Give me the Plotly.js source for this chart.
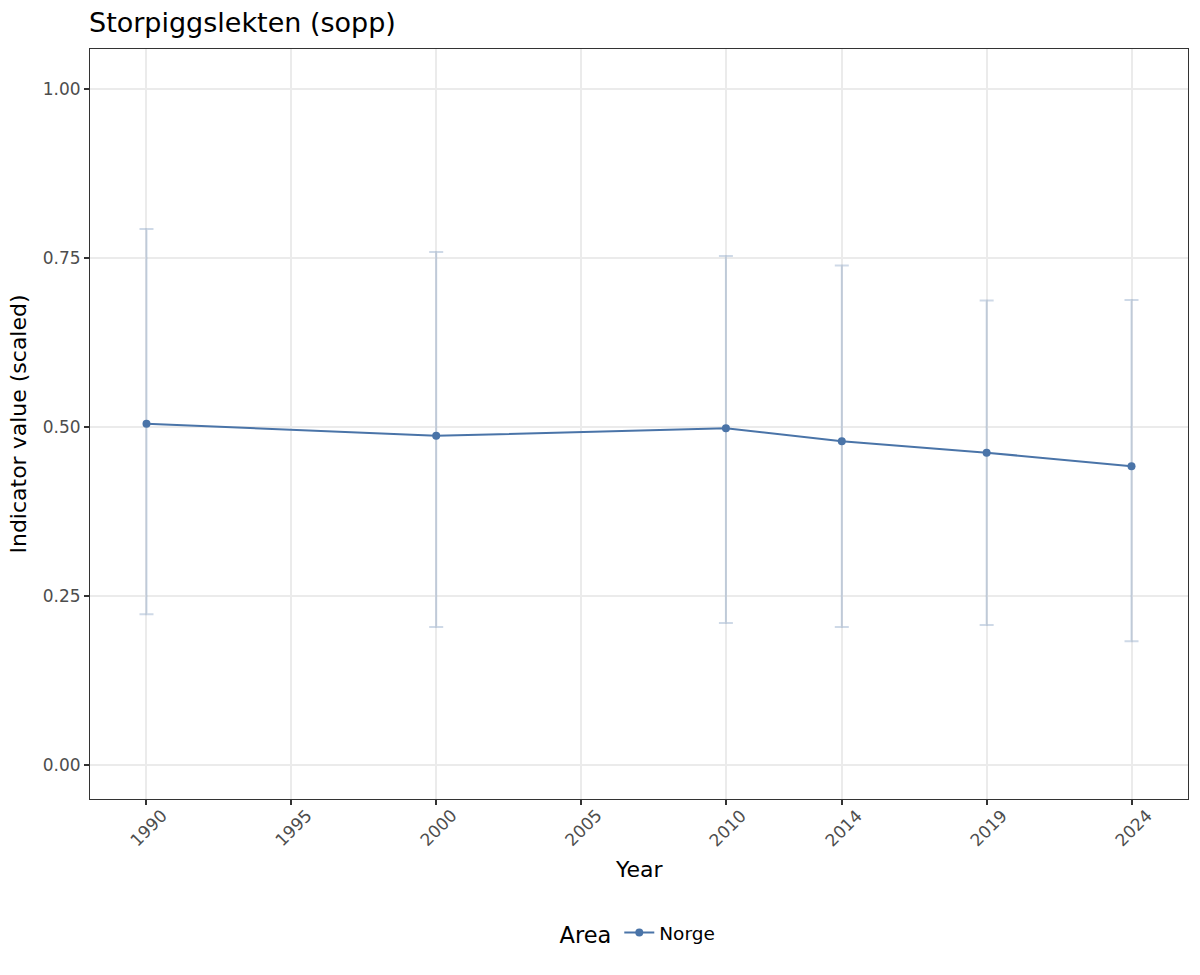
<!DOCTYPE html>
<html>
<head>
<meta charset="utf-8">
<script src="https://cdn.plot.ly/plotly-3.0.1.min.js"></script>
<style>html,body{margin:0;padding:0;background:#fff;}#chart{width:1200px;height:975px;}</style>
</head>
<body>
<div id="chart"></div>
<script>
const years = [1990, 2000, 2010, 2014, 2019, 2024];
const values = [0.505, 0.487, 0.498, 0.479, 0.462, 0.442];
const upper = [0.793, 0.759, 0.753, 0.739, 0.687, 0.688];
const lower = [0.223, 0.204, 0.210, 0.204, 0.207, 0.183];
const tickYears = [1990, 1995, 2000, 2005, 2010, 2014, 2019, 2024];
const yTicks = [0, 0.25, 0.5, 0.75, 1.0];
const yTickLabels = ['0.00', '0.25', '0.50', '0.75', '1.00'];
const seriesName = 'Norge';

const font = '"DejaVu Sans", sans-serif';
const trace = {
  x: years, y: values, type: 'scatter', mode: 'lines+markers', name: seriesName,
  line: {color: '#4a74a8', width: 2},
  marker: {color: '#4a74a8', size: 8},
  error_y: {
    type: 'data', symmetric: false,
    array: upper.map((u, i) => u - values[i]),
    arrayminus: values.map((v, i) => v - lower[i]),
    color: 'rgba(74,116,168,0.27)', thickness: 2, width: 7
  }
};
const tickAnnotations = tickYears.map(yr => ({
  x: yr, xref: 'x', y: 0, yref: 'paper', text: String(yr),
  textangle: -45, xanchor: 'center', yanchor: 'top', yshift: -4, xshift: 2,
  showarrow: false, font: {size: 17, color: '#4d4d4d', family: font}
}));
const layout = {
  width: 1200, height: 975,
  margin: {l: 90, r: 12, t: 49, b: 176},
  paper_bgcolor: '#fff', plot_bgcolor: '#fff',
  font: {family: font, color: '#000'},
  title: {text: 'Storpiggslekten (sopp)', x: 89/1200, xanchor: 'left', y: 0.977, yanchor: 'middle', font: {size: 27, color: '#000', family: font}},
  xaxis: {
    range: [1988.05, 2025.95], tickvals: tickYears, ticktext: tickYears.map(String),
    showticklabels: false,
    ticks: 'outside', ticklen: 5, tickcolor: '#333', tickwidth: 1.5,
    showgrid: true, gridcolor: '#ebebeb', gridwidth: 1.5,
    showline: true, linecolor: '#333', linewidth: 1, mirror: true, zeroline: false
  },
  yaxis: {
    range: [-0.0503, 1.0592], tickvals: yTicks, ticktext: yTickLabels,
    tickfont: {size: 17, color: '#4d4d4d'},
    ticks: 'outside', ticklen: 5, tickcolor: '#333', tickwidth: 1.5,
    showgrid: true, gridcolor: '#ebebeb', gridwidth: 1.5,
    showline: true, linecolor: '#333', linewidth: 1, mirror: true, zeroline: false,
    title: {text: 'Indicator value (scaled)', font: {size: 22, color: '#000'}, standoff: 10}
  },
  annotations: tickAnnotations.concat([{
    x: 0.5, xref: 'paper', y: 0, yref: 'paper', text: 'Year', yshift: -70,
    xanchor: 'center', yanchor: 'middle', showarrow: false,
    font: {size: 22, color: '#000', family: font}
  }]),
  showlegend: true,
  legend: {
    orientation: 'h', x: 0.5, xanchor: 'center', y: -0.18, yanchor: 'middle',
    title: {text: 'Area', font: {size: 22.5, color: '#000'}, side: 'left'},
    font: {size: 18.5, color: '#000'}
  }
};
Plotly.newPlot('chart', [trace], layout, {displayModeBar: false, responsive: false});
</script>
</body>
</html>
